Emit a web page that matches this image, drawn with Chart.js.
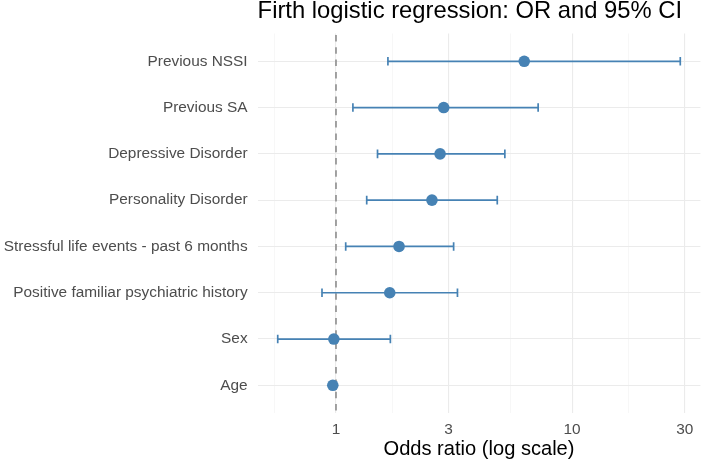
<!DOCTYPE html>
<html><head><meta charset="utf-8">
<script src="https://cdn.jsdelivr.net/npm/chart.js@4/dist/chart.umd.min.js"></script>
<style>html,body{margin:0;padding:0;background:#fff}</style>
</head><body>
<canvas id="c" width="702" height="463"></canvas>
<script>
const categories = ["Previous NSSI", "Previous SA", "Depressive Disorder", "Personality Disorder",
  "Stressful life events - past 6 months", "Positive familiar psychiatric history", "Sex", "Age"];
const oddsRatio = [6.27, 2.86, 2.76, 2.55, 1.85, 1.69, 0.98, 0.97];
const ciLower   = [1.66, 1.18, 1.50, 1.35, 1.10, 0.873, 0.567, 0.95];
const ciUpper   = [28.7, 7.18, 5.19, 4.82, 3.15, 3.27, 1.70, 0.99];
const majorTicks = [1, 3, 10, 30];
const minorTicks = [0.5477, 1.732, 5.477, 17.32];
const refValue = 1;

const FONT = "'Liberation Sans', Arial, Helvetica, sans-serif";
const BLUE = '#4682B4';

// ggplot-like 5% expansion in log space
const lmin = Math.log10(Math.min(...ciLower)), lmax = Math.log10(Math.max(...ciUpper));
const ex = (lmax - lmin) * 0.05;
const xMin = Math.pow(10, lmin - ex), xMax = Math.pow(10, lmax + ex);

const datasets = [{
  type: 'scatter',
  data: oddsRatio.map((v, i) => ({x: v, y: i})),
  backgroundColor: BLUE, borderWidth: 0, pointRadius: 5.8, pointHoverRadius: 5.8
}];
categories.forEach((c, i) => {
  datasets.push({
    type: 'line',
    data: [{x: ciLower[i], y: i}, {x: ciUpper[i], y: i}],
    borderColor: BLUE, borderWidth: 1.7, showLine: true,
    pointStyle: 'line', rotation: 90, pointRadius: 4.3, pointHoverRadius: 4.3,
    pointBorderColor: BLUE, pointBorderWidth: 1.7, fill: false
  });
});

const refLine = {
  id: 'refLine',
  beforeDatasetsDraw(chart) {
    const {ctx, chartArea: a, scales: {x}} = chart;
    const px = Math.round(x.getPixelForValue(refValue));
    ctx.save();
    ctx.strokeStyle = '#7f7f7f'; ctx.lineWidth = 1.4; ctx.setLineDash([6.5, 5.8]);
    ctx.beginPath(); ctx.moveTo(px, a.top + 1.5); ctx.lineTo(px, a.bottom); ctx.stroke();
    ctx.restore();
  }
};

new Chart(document.getElementById('c'), {
  type: 'scatter',
  data: {datasets},
  plugins: [refLine],
  options: {
    responsive: false, animation: false, events: [],
    layout: {autoPadding: false, padding: {left: 0, right: 1.6, top: 0, bottom: 0}},
    plugins: {
      legend: {display: false}, tooltip: {enabled: false},
      title: {
        display: true, text: 'Firth logistic regression: OR and 95% CI',
        align: 'start', fullSize: false, color: '#000',
        font: {family: FONT, size: 23.8, weight: 'normal', lineHeight: 1.0},
        padding: {top: 0, bottom: 9.7}
      }
    },
    scales: {
      x: {
        type: 'logarithmic', min: xMin, max: xMax,
        afterBuildTicks: axis => {
          axis.ticks = [...minorTicks, ...majorTicks].sort((a, b) => a - b).map(v => ({value: v}));
        },
        afterFit: axis => { axis.height = 49.9; axis.paddingLeft = 0; axis.paddingRight = 0; },
        ticks: {
          autoSkip: false, maxRotation: 0, padding: 7, color: '#4d4d4d',
          font: {family: FONT, size: 15.4},
          callback: v => majorTicks.includes(v) ? String(v) : ''
        },
        grid: {
          drawTicks: false,
          color: ctx => (ctx.tick && majorTicks.includes(ctx.tick.value)) ? '#ebebeb' : '#f4f4f4',
          lineWidth: ctx => (ctx.tick && majorTicks.includes(ctx.tick.value)) ? 1.1 : 0.7
        },
        border: {display: false},
        title: {
          display: true, text: 'Odds ratio (log scale)', color: '#000',
          font: {family: FONT, size: 20.1}, padding: {top: 0, bottom: 1}
        }
      },
      y: {
        type: 'linear', reverse: true, min: -0.6, max: categories.length - 1 + 0.6,
        afterBuildTicks: axis => { axis.ticks = categories.map((c, i) => ({value: i})); },
        afterFit: axis => { axis.width = 257.6; },
        ticks: {
          autoSkip: false, padding: 10, color: '#4d4d4d',
          font: {family: FONT, size: 15.4},
          callback: v => categories[v] ?? ''
        },
        grid: {drawTicks: false, color: '#ebebeb', lineWidth: 1.1},
        border: {display: false}
      }
    }
  }
});
</script>
</body></html>
